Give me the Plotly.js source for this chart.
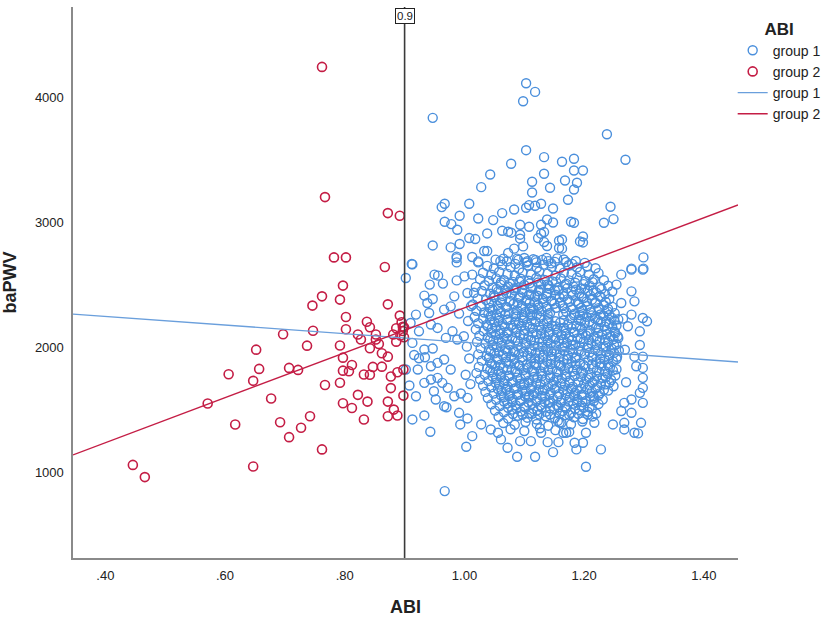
<!DOCTYPE html>
<html>
<head>
<meta charset="utf-8">
<script src="https://cdn.plot.ly/plotly-3.0.1.min.js"></script>
<style>html,body{margin:0;padding:0;background:#fff;}#chart{width:829px;height:619px;}</style>
</head>
<body>
<div id="chart"></div>
<script>
// ---------- DATA ----------
var xTickVals = [0.4, 0.6, 0.8, 1.0, 1.2, 1.4];
var xTickText = [".40", ".60", ".80", "1.00", "1.20", "1.40"];
var yTickVals = [1000, 2000, 3000, 4000];
var cutoff = 0.9;
var seriesNames = ["group 1", "group 2"];

// group 2 (ABI < 0.9): [ABI, baPWV]
var group2Points = [
[0.762,4246],[0.767,3203],[0.872,3075],[0.892,3054],[0.782,2720],[0.802,2720],[0.867,2643],
[0.797,2494],[0.762,2408],[0.792,2382],[0.746,2334],[0.872,2344],[0.802,2243],[0.892,2254],
[0.837,2205],[0.842,2160],[0.802,2144],[0.747,2133],[0.697,2104],[0.822,2102],[0.827,2062],
[0.852,2102],[0.886,2152],[0.897,2165],[0.881,2102],[0.886,2045],[0.852,2062],[0.737,2013],
[0.792,2014],[0.857,2026],[0.842,1992],[0.652,1981],[0.862,1952],[0.872,1925],[0.797,1917],
[0.812,1858],[0.862,1845],[0.847,1843],[0.707,1835],[0.722,1819],[0.657,1827],[0.797,1813],
[0.807,1808],[0.606,1784],[0.888,1800],[0.832,1782],[0.842,1780],[0.877,1766],[0.647,1731],
[0.792,1716],[0.767,1698],[0.877,1673],[0.822,1619],[0.898,1613],[0.677,1590],[0.571,1550],
[0.797,1552],[0.838,1565],[0.872,1565],[0.812,1514],[0.882,1501],[0.742,1448],[0.872,1448],
[0.888,1454],[0.832,1421],[0.692,1400],[0.617,1382],[0.727,1355],[0.707,1280],[0.762,1182],
[0.446,1058],[0.647,1045],[0.466,960],[0.895,2200],[0.897,2130],[0.899,2080],[0.893,2095],
[0.899,2160],[0.898,1822]
];

// group 1 (ABI >= 0.9): sparse outer points [ABI, baPWV]
var group1Outer = [
[1.103,4115],[1.118,4046],[1.098,3971],[0.947,3838],[1.238,3707],[1.103,3579],[1.269,3502],
[1.133,3523],[1.163,3486],[1.183,3510],[1.078,3470],[1.183,3416],[1.198,3416],[1.043,3384],
[1.133,3390],[1.113,3326],[1.168,3336],[1.188,3318],[1.028,3283],[1.143,3278],[1.183,3264],
[1.113,3240],[1.173,3182],[0.967,3150],[0.962,3123],[1.008,3150],[1.103,3118],[1.108,3139],
[1.118,3134],[1.128,3150],[1.148,3112],[1.244,3126],[1.083,3104],[0.992,3054],[1.063,3075],
[1.023,3032],[1.048,3019],[1.138,3024],[0.967,3006],[0.978,2987],[1.093,2982],[1.108,2966],
[1.128,2982],[1.148,3000],[1.178,3006],[1.183,2998],[1.233,2998],[1.249,3027],[0.988,2942],
[1.063,2934],[1.073,2926],[1.078,2918],[1.038,2912],[1.133,2923],[1.128,2910],[1.093,2902],
[1.008,2875],[1.018,2867],[1.093,2870],[1.123,2875],[0.947,2816],[0.977,2800],[0.992,2827],
[1.098,2808],[1.133,2843],[1.138,2811],[1.158,2854],[1.163,2864],[1.198,2888],[1.193,2848],
[1.198,2840],[1.033,2771],[1.038,2771],[1.083,2790],[1.158,2795],[1.163,2790],[0.987,2726],
[0.987,2714],[1.013,2723],[1.023,2688],[1.073,2755],[0.912,2667],[1.299,2720],[1.279,2630],
[1.299,2630],[1.09,2700],[1.1,2715],[1.105,2690],[1.115,2705],[1.12,2680],[1.13,2700],
[1.14,2690],[1.145,2672],[1.155,2712],[1.17,2683],[1.18,2668],[1.085,2668],[1.06,2690],
[1.065,2710],
[0.913,2664],[0.987,2680],[1.023,2680],[0.902,2555],[0.95,2582],[0.956,2574],[0.942,2502],
[0.964,2510],[0.987,2536],[1.0,2568],[1.013,2582],[0.933,2414],[0.947,2387],[0.938,2355],
[0.983,2408],[1.005,2435],[0.919,2262],[0.941,2275],[0.966,2302],[0.977,2328],[0.991,2270],
[0.910,2195],[0.924,2128],[0.944,2182],[0.955,2155],[0.980,2128],[0.913,2035],[0.933,1982],
[0.947,1990],[0.969,2075],[0.988,2062],[0.999,2088],[0.916,1938],[0.924,1912],[0.934,1920],
[0.902,1822],[0.922,1822],[0.944,1848],[0.955,1875],[0.966,1902],[0.977,1822],[0.908,1694],
[0.933,1715],[0.944,1742],[0.955,1755],[0.963,1715],[0.972,1675],[0.919,1608],[0.949,1648],
[0.952,1582],[0.966,1528],[0.983,1608],[0.994,1630],[1.005,1595],[0.97,1520],[0.991,1475],
[0.913,1422],[0.933,1454],[0.943,1323],[0.993,1382],[1.005,1430],[1.013,1288],[1.003,1203],
[1.028,1382],[1.044,1342],[1.056,1315],[1.061,1262],[1.072,1195],[1.088,1123],[1.118,1123],
[1.093,1248],[1.111,1248],[1.128,1315],[1.139,1240],[1.148,1160],[1.157,1240],[1.165,1315],
[0.967,848],[1.004,2005],[1.008,1910],[1.002,1780],[1.01,1705],[1.006,2210],[1.011,2330],
[1.298,2622],[1.279,2622],[1.262,2582],[1.254,2502],[1.279,2448],[1.262,2355],[1.284,2368],
[1.279,2262],[1.298,2235],[1.305,2208],[1.293,2128],[1.273,2168],[1.256,2088],[1.293,2018],
[1.298,1925],[1.284,1925],[1.287,1848],[1.298,1835],[1.298,1755],[1.298,1675],[1.293,1635],
[1.298,1555],[1.279,1582],[1.267,1555],[1.279,1475],[1.295,1395],[1.267,1395],[1.267,1342],
[1.284,1315],[1.290,1310],[1.248,1382],[1.217,1395],[1.203,1315],[1.184,1235],[1.198,1235],
[1.187,1182],[1.228,1182],[1.203,1043],[1.170,1315],[1.162,1395],[1.268,1980],[1.27,1720],
[1.265,2230],[1.262,1490]
];

// group 1 dense core [ABI, baPWV]
var group1Core = [
[1.052,2702],[1.071,2688],[1.088,2710],[1.104,2679],[1.119,2698],[1.137,2716],[1.151,2684],[1.166,2703],[1.186,2691],[1.201,2676],
[1.038,2652],[1.049,2631],[1.063,2660],[1.077,2641],[1.091,2628],[1.106,2655],[1.121,2637],[1.132,2662],[1.146,2644],[1.159,2630],[1.174,2657],[1.188,2639],[1.205,2649],[1.219,2633],
[1.031,2597],[1.045,2581],[1.058,2604],[1.072,2588],[1.084,2575],[1.097,2599],[1.111,2583],[1.125,2607],[1.139,2590],[1.152,2574],[1.166,2598],[1.179,2586],[1.193,2603],[1.208,2579],[1.224,2594],
[1.026,2546],[1.041,2531],[1.053,2552],[1.066,2537],[1.081,2524],[1.094,2549],[1.107,2533],[1.12,2555],[1.134,2540],[1.147,2527],[1.161,2551],[1.175,2536],[1.188,2558],[1.202,2529],[1.216,2545],[1.233,2537],
[1.019,2484],[1.034,2497],[1.047,2478],[1.06,2502],[1.073,2487],[1.087,2474],[1.1,2499],[1.114,2483],[1.128,2505],[1.141,2491],[1.155,2476],[1.168,2500],[1.182,2486],[1.195,2471],[1.209,2496],[1.226,2482],[1.24,2493],
[1.016,2437],[1.029,2451],[1.043,2429],[1.056,2446],[1.07,2433],[1.084,2455],[1.097,2438],[1.111,2424],[1.124,2449],[1.138,2435],[1.151,2457],[1.165,2428],[1.179,2444],[1.192,2431],[1.206,2452],[1.22,2439],[1.235,2426],[1.247,2447],
[1.022,2392],[1.036,2378],[1.05,2401],[1.063,2386],[1.077,2372],[1.091,2397],[1.104,2383],[1.118,2405],[1.131,2389],[1.145,2375],[1.159,2399],[1.172,2384],[1.186,2370],[1.199,2395],[1.213,2381],[1.228,2402],[1.242,2387],
[1.014,2343],[1.028,2329],[1.041,2351],[1.055,2336],[1.069,2322],[1.082,2347],[1.096,2333],[1.109,2355],[1.123,2339],[1.137,2325],[1.15,2349],[1.164,2334],[1.178,2320],[1.191,2345],[1.205,2331],[1.219,2353],[1.233,2338],[1.247,2324],
[1.02,2293],[1.033,2279],[1.047,2301],[1.061,2286],[1.074,2272],[1.088,2297],[1.102,2283],[1.115,2305],[1.129,2289],[1.143,2275],[1.17,2284],[1.184,2270],[1.197,2295],[1.211,2281],[1.225,2303],[1.239,2288],[1.251,2274],
[1.017,2243],[1.031,2229],[1.044,2251],[1.058,2236],[1.072,2222],[1.086,2247],[1.099,2233],[1.113,2255],[1.127,2239],[1.14,2225],[1.177,2234],[1.191,2220],[1.204,2245],[1.218,2231],[1.232,2253],[1.246,2238],[1.257,2224],
[1.023,2193],[1.037,2179],[1.05,2201],[1.064,2186],[1.078,2172],[1.091,2197],[1.105,2183],[1.119,2205],[1.132,2189],[1.146,2175],[1.16,2199],[1.173,2184],[1.187,2170],[1.201,2195],[1.214,2181],[1.228,2203],[1.242,2188],[1.254,2174],
[1.019,2143],[1.032,2129],[1.046,2151],[1.06,2136],[1.073,2122],[1.087,2147],[1.101,2133],[1.114,2155],[1.128,2139],[1.142,2125],[1.155,2149],[1.169,2134],[1.183,2120],[1.196,2145],[1.21,2131],[1.224,2153],[1.237,2138],[1.251,2124],
[1.025,2093],[1.039,2079],[1.052,2101],[1.066,2086],[1.08,2072],[1.093,2097],[1.107,2083],[1.121,2105],[1.134,2089],[1.148,2075],[1.162,2099],[1.175,2084],[1.189,2070],[1.203,2095],[1.216,2081],[1.23,2103],[1.244,2088],[1.257,2074],
[1.021,2043],[1.035,2029],[1.048,2051],[1.062,2036],[1.076,2022],[1.089,2047],[1.103,2033],[1.117,2055],[1.13,2039],[1.144,2025],[1.158,2049],[1.171,2034],[1.185,2020],[1.199,2045],[1.212,2031],[1.226,2053],[1.24,2038],[1.254,2024],
[1.027,1993],[1.041,1979],[1.054,2001],[1.068,1986],[1.082,1972],[1.095,1997],[1.109,1983],[1.123,2005],[1.136,1989],[1.15,1975],[1.164,1999],[1.177,1984],[1.191,1970],[1.205,1995],[1.218,1981],[1.232,2003],[1.246,1988],[1.258,1974],
[1.023,1943],[1.037,1929],[1.05,1951],[1.064,1936],[1.078,1922],[1.091,1947],[1.105,1933],[1.119,1955],[1.132,1939],[1.146,1925],[1.16,1949],[1.173,1934],[1.187,1920],[1.201,1945],[1.214,1931],[1.228,1953],[1.242,1938],[1.255,1924],
[1.029,1893],[1.043,1879],[1.056,1901],[1.07,1886],[1.084,1872],[1.097,1897],[1.111,1883],[1.125,1905],[1.138,1889],[1.152,1875],[1.166,1899],[1.179,1884],[1.193,1870],[1.207,1895],[1.22,1881],[1.234,1903],[1.248,1888],
[1.024,1843],[1.038,1829],[1.051,1851],[1.065,1836],[1.079,1822],[1.092,1847],[1.106,1833],[1.12,1855],[1.133,1839],[1.147,1825],[1.161,1849],[1.174,1834],[1.188,1820],[1.202,1845],[1.215,1831],[1.229,1853],[1.243,1838],[1.254,1824],
[1.02,1793],[1.034,1779],[1.047,1801],[1.061,1786],[1.075,1772],[1.088,1797],[1.102,1783],[1.116,1805],[1.129,1789],[1.143,1775],[1.157,1799],[1.17,1784],[1.184,1770],[1.198,1795],[1.211,1781],[1.225,1803],[1.239,1788],[1.252,1774],
[1.026,1743],[1.04,1729],[1.053,1751],[1.067,1736],[1.081,1722],[1.094,1747],[1.108,1733],[1.122,1755],[1.135,1739],[1.149,1725],[1.163,1749],[1.176,1734],[1.19,1720],[1.204,1745],[1.217,1731],[1.231,1753],[1.245,1738],
[1.031,1693],[1.045,1679],[1.058,1701],[1.072,1686],[1.086,1672],[1.099,1697],[1.113,1683],[1.127,1705],[1.14,1689],[1.154,1675],[1.168,1699],[1.181,1684],[1.195,1670],[1.209,1695],[1.222,1681],[1.236,1703],[1.249,1688],
[1.035,1643],[1.049,1629],[1.062,1651],[1.076,1636],[1.09,1622],[1.103,1647],[1.117,1633],[1.131,1655],[1.144,1639],[1.158,1625],[1.172,1649],[1.185,1634],[1.199,1620],[1.213,1645],[1.226,1631],[1.24,1653],
[1.039,1593],[1.053,1579],[1.066,1601],[1.08,1586],[1.094,1572],[1.107,1597],[1.121,1583],[1.135,1605],[1.148,1589],[1.162,1575],[1.176,1599],[1.189,1584],[1.203,1570],[1.217,1595],[1.231,1581],
[1.045,1543],[1.059,1529],[1.072,1551],[1.086,1536],[1.1,1522],[1.113,1547],[1.127,1533],[1.141,1555],[1.154,1539],[1.168,1525],[1.182,1549],[1.195,1534],[1.209,1520],[1.224,1545],
[1.051,1493],[1.066,1479],[1.08,1501],[1.094,1486],[1.108,1472],[1.122,1497],[1.136,1483],[1.15,1505],[1.164,1489],[1.178,1475],[1.192,1499],[1.206,1484],[1.22,1470],
[1.057,1443],[1.073,1429],[1.089,1451],[1.105,1436],[1.12,1422],[1.136,1447],[1.151,1433],[1.167,1455],[1.183,1439],[1.198,1425],[1.214,1446],
[1.065,1393],[1.084,1379],[1.102,1401],[1.121,1386],[1.14,1372],[1.159,1397],[1.178,1383],[1.197,1405],
[1.077,1343],[1.1,1329],[1.126,1351],[1.152,1336],[1.175,1322],
[1.085,2265],[1.112,2318],[1.139,2262],[1.166,2312],[1.193,2258],[1.098,2214],[1.125,2160],[1.152,2208],[1.179,2153],[1.206,2110],
[1.071,2113],[1.111,2058],[1.138,2005],[1.165,2062],[1.192,2011],[1.084,1960],[1.118,1912],[1.145,1964],[1.172,1906],[1.199,1858],
[1.091,1858],[1.127,1808],[1.154,1754],[1.181,1806],[1.208,1756],[1.1,1710],[1.134,1660],[1.161,1712],[1.188,1657],[1.215,1610],
[1.108,1612],[1.143,1561],[1.17,1512],[1.197,1561],[1.125,1462],[1.156,1410]
];

// group 1: extra points filling the densest middle of the cloud [ABI, baPWV]
var group1Middle = [
[1.061,2521],[1.076,2508],[1.092,2526],[1.109,2512],[1.123,2519],[1.139,2503],[1.153,2524],[1.17,2509],[1.185,2517],[1.199,2506],[1.214,2522],
[1.054,2468],[1.068,2459],[1.083,2472],[1.096,2463],[1.111,2476],[1.127,2461],[1.142,2469],[1.157,2455],[1.172,2474],[1.186,2462],[1.201,2470],[1.215,2458],[1.229,2466],
[1.049,2417],[1.064,2411],[1.079,2422],[1.093,2408],[1.108,2419],[1.122,2413],[1.137,2406],[1.152,2421],[1.166,2409],[1.181,2418],[1.196,2404],[1.21,2416],[1.226,2410],
[1.045,2368],[1.061,2359],[1.075,2366],[1.089,2354],[1.103,2371],[1.117,2361],[1.132,2357],[1.146,2369],[1.16,2356],[1.175,2364],[1.19,2352],[1.204,2367],[1.219,2360],[1.236,2363],
[1.042,2316],[1.057,2309],[1.071,2322],[1.095,2313],[1.109,2304],[1.124,2319],[1.138,2308],[1.153,2317],[1.181,2306],[1.195,2316],[1.21,2303],[1.224,2314],[1.24,2307],
[1.04,2268],[1.054,2259],[1.068,2264],[1.096,2258],[1.11,2267],[1.121,2261],[1.165,2262],[1.183,2257],[1.198,2266],[1.213,2256],[1.227,2263],[1.242,2259],
[1.043,2218],[1.057,2211],[1.071,2219],[1.085,2206],[1.112,2214],[1.138,2209],[1.166,2217],[1.195,2213],[1.209,2206],[1.223,2218],[1.237,2209],[1.25,2214],
[1.039,2166],[1.053,2160],[1.067,2167],[1.081,2155],[1.095,2171],[1.109,2164],[1.139,2159],[1.152,2168],[1.166,2157],[1.193,2164],[1.22,2158],[1.234,2167],[1.247,2161],
[1.045,2116],[1.059,2110],[1.086,2118],[1.099,2107],[1.114,2117],[1.128,2111],[1.141,2104],[1.155,2119],[1.169,2108],[1.184,2116],[1.197,2111],[1.223,2115],[1.238,2106],[1.252,2113],
[1.043,2064],[1.057,2058],[1.071,2067],[1.085,2055],[1.099,2069],[1.125,2063],[1.139,2054],[1.152,2068],[1.18,2056],[1.194,2066],[1.208,2058],[1.221,2067],[1.235,2060],[1.249,2065],
[1.047,2016],[1.061,2010],[1.075,2019],[1.089,2007],[1.102,2017],[1.116,2012],[1.13,2004],[1.153,2014],[1.167,2008],[1.181,2018],[1.207,2011],[1.221,2019],[1.236,2009],[1.25,2015],
[1.044,1966],[1.058,1960],[1.072,1969],[1.099,1962],[1.112,1967],[1.126,1957],[1.139,1969],[1.154,1961],[1.167,1968],[1.181,1956],[1.195,1965],[1.209,1958],[1.223,1968],[1.237,1961],[1.25,1955],
[1.041,1916],[1.055,1910],[1.069,1918],[1.083,1906],[1.097,1921],[1.111,1913],[1.131,1917],[1.145,1907],[1.158,1916],[1.185,1911],[1.213,1917],[1.227,1908],[1.241,1915],[1.254,1906],
[1.046,1866],[1.06,1860],[1.074,1869],[1.104,1862],[1.117,1868],[1.131,1858],[1.144,1866],[1.158,1860],[1.172,1869],[1.186,1857],[1.213,1863],[1.227,1870],[1.24,1859],
[1.043,1816],[1.057,1810],[1.071,1818],[1.085,1806],[1.099,1819],[1.113,1812],[1.14,1816],[1.154,1807],[1.167,1819],[1.195,1813],[1.221,1817],[1.235,1808],[1.248,1815],
[1.047,1766],[1.061,1760],[1.074,1769],[1.088,1757],[1.102,1770],[1.116,1762],[1.129,1768],[1.143,1758],[1.17,1765],[1.195,1761],[1.221,1768],[1.236,1760],
[1.052,1716],[1.066,1710],[1.079,1719],[1.093,1707],[1.107,1718],[1.12,1712],[1.147,1704],[1.175,1717],[1.2,1709],[1.214,1718],[1.228,1710],[1.242,1716],
[1.056,1666],[1.07,1660],[1.083,1669],[1.097,1657],[1.111,1668],[1.124,1662],[1.151,1668],[1.165,1659],[1.178,1667],[1.205,1662],[1.219,1669],[1.233,1660],
[1.061,1616],[1.075,1610],[1.088,1619],[1.101,1607],[1.115,1618],[1.129,1612],[1.142,1619],[1.156,1606],[1.169,1617],[1.183,1610],[1.196,1618],[1.21,1607],[1.224,1615],
[1.066,1566],[1.08,1560],[1.093,1569],[1.107,1557],[1.12,1568],[1.134,1562],[1.161,1558],[1.174,1566],[1.188,1560],[1.216,1568],
[1.073,1516],[1.087,1510],[1.101,1519],[1.115,1507],[1.129,1518],[1.143,1512],[1.157,1519],[1.185,1508],[1.199,1516],[1.213,1510],
[1.081,1466],[1.097,1460],[1.113,1468],[1.143,1461],[1.159,1468],[1.175,1459],[1.19,1467],[1.206,1461]
];

// fit lines (read at the two ends of the x axis)
var fitX = [0.346, 1.457];
var fitY1 = [2266, 1882];
var fitY2 = [1138, 3140];

// ---------- STYLE ----------
var blue = "#4a8fdc";
var red = "#c41d45";
var blueLine = "#6a9fdc";
var font = "Liberation Sans, Arial, sans-serif";

var group1Points = group1Outer.concat(group1Core, group1Middle);

var traces = [
  {type:"scatter", mode:"markers", name:seriesNames[0], legendgroup:"m",
   x: group1Points.map(function(p){return p[0];}),
   y: group1Points.map(function(p){return p[1];}),
   marker:{symbol:"circle-open", size:9, color:blue, line:{width:1.4, color:blue}}},
  {type:"scatter", mode:"markers", name:seriesNames[1], legendgroup:"m",
   x: group2Points.map(function(p){return p[0];}),
   y: group2Points.map(function(p){return p[1];}),
   marker:{symbol:"circle-open", size:9, color:red, line:{width:1.6, color:red}}},
  {type:"scatter", mode:"lines", name:seriesNames[0], x:fitX, y:fitY1,
   line:{color:blueLine, width:1.3}},
  {type:"scatter", mode:"lines", name:seriesNames[1], x:fitX, y:fitY2,
   line:{color:red, width:1.4}}
];

var layout = {
  width:829, height:619,
  margin:{l:73, r:91, t:7, b:61, autoexpand:false},
  paper_bgcolor:"#fff", plot_bgcolor:"#fff",
  font:{family:font, color:"#222", size:13},
  showlegend:true,
  legend:{x:0.992, xanchor:"left", y:0.99, yanchor:"top",
          font:{family:font, size:14, color:"#222"},
          title:{text:"<b>ABI</b>", side:"top center", font:{family:font, size:17, color:"#222"}},
          bgcolor:"rgba(0,0,0,0)", tracegroupgap:0, itemwidth:30},
  xaxis:{range:[0.346,1.457], showgrid:false, zeroline:false, showline:true,
         linecolor:"#8a8a8a", linewidth:1.6, ticks:"", tickvals:xTickVals, ticktext:xTickText,
         tickfont:{family:font, size:13, color:"#222"}, ticklabelstandoff:5,
         title:{text:"<b>ABI</b>", font:{family:font, size:18, color:"#222"}, standoff:18}},
  yaxis:{range:[312,4726], showgrid:false, zeroline:false, showline:true,
         linecolor:"#8a8a8a", linewidth:1.6, ticks:"", tickvals:yTickVals,
         tickfont:{family:font, size:13, color:"#222"}, ticklabelstandoff:5,
         title:{text:"<b>baPWV</b>", font:{family:font, size:18, color:"#222"}, standoff:14}},
  shapes:[{type:"line", xref:"x", yref:"paper", x0:cutoff, x1:cutoff, y0:0, y1:1,
           line:{color:"#3a3a3a", width:1.6}}],
  annotations:[{xref:"x", yref:"paper", x:cutoff, y:1, yanchor:"top", yshift:-1,
                text:String(cutoff), showarrow:false, bgcolor:"#fff", bordercolor:"#222",
                borderwidth:1, borderpad:1, font:{family:font, size:11.5, color:"#222"}}]
};

Plotly.newPlot("chart", traces, layout, {displayModeBar:false, staticPlot:true});
</script>
</body>
</html>
